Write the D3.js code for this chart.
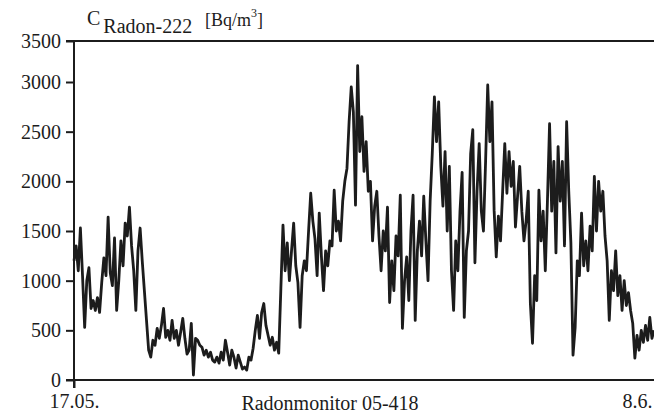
<!DOCTYPE html>
<html lang="de">
<head>
    <meta charset="UTF-8">
    <title>Radonmonitor 05-418</title>
    <style>
        body { margin: 0; background: #fff; }
        svg { display: block; font-family: "Liberation Serif", "Times New Roman", serif; }
        .axis path, .axis line { stroke: #1c1c1c; stroke-width: 2; }
        .axis text { fill: #1c1c1c; }
    </style>
</head>
<body>
    <div id="chart"></div>
    <script src="https://d3js.org/d3.v7.min.js"></script>
    <script>
        // Rn-222 Messwerte, alle 2 Stunden ab 17.05. 00:00 [Bq/m3]
        const startDate = new Date(2004, 4, 17);
        const endDate   = new Date(2004, 5, 8);
        const stepHours = 2;
        const radon = [
            1200, 1350, 1100, 1530, 1050,  530, 1000, 1130,  720,  800,
             700,  830,  680,  980, 1230, 1050, 1640, 1080,  950, 1430,
             700, 1000, 1400, 1150, 1580, 1450, 1740, 1350, 1100,  700,
            1300, 1530, 1200,  900,  600,  300,  230,  400,  350,  520,
             420,  550,  720,  430,  500,  400,  600,  420,  500,  350,
             480,  620,  420,  260,  300,  570,   50,  420,  400,  350,
             330,  250,  300,  230,  280,  200,  180,  230,  170,  280,
             200,  400,  280,  150,  300,  230,  120,  250,  180,  110,
             130,  100,  230,  200,  320,  500,  650,  420,  680,  770,
             550,  450,  350,  430,  300,  380,  270,  920, 1560, 1100,
            1380, 1000, 1300, 1580, 1150,  980,  530, 1050, 1200, 1100,
            1500, 1880, 1600, 1420, 1050, 1680, 1250,  900, 1300, 1150,
            1400, 1350, 1910, 1500, 1600, 1400, 1800, 2000, 2130, 2600,
            2950, 2700, 1760, 3200, 2300, 2650, 2100, 2400, 1900, 2000,
            1400, 1750, 1900, 1450, 1100, 1500, 1300, 1740,  780, 1200,
             900, 1450, 1250, 1860,  520, 1000, 1240,  800, 1500, 1860,
             600, 1300, 1600, 1250, 1850, 1400, 1000, 1800, 2280, 2850,
            2400, 2800, 2150, 1750, 2300, 1500, 2150, 1100,  700, 1400,
            1100, 1700, 2090,  630, 1300, 1500, 2280, 2520, 1180, 1900,
            2380, 1700, 1500, 2200, 2970, 2400, 2800, 1710, 1240, 1650,
            1400, 1900, 2380, 1880, 2300, 1950, 2200, 1540, 1850, 2150,
            1700, 1400, 1600, 1900,  770,  370, 1050,  800, 1910, 1400,
            1700, 1100, 1800, 2580, 1700, 2200, 1280, 2350, 1800, 2200,
            1350, 2600, 1900, 1380,  250,  530, 1200, 1050, 1680, 1150,
            1400, 1100, 1550, 1300, 2050, 1500, 2000, 1700, 1900, 1450,
            1200,  600, 1100,  900, 1300,  850, 1050,  700, 1000,  750,
             880,  700,  570,  220,  450,  300,  500,  380,  550,  400,
             630,  420,  500
        ];
        const yTicks  = [0, 500, 1000, 1500, 2000, 2500, 3000, 3500];
        const xTicks  = [startDate, endDate];
        const xLabels = ["17.05.", "8.6."];

        const width  = 654;
        const height = 417;
        const ink    = "#1c1c1c";
        const serif  = "'Liberation Serif', 'Times New Roman', serif";

        const data = radon.map((v, i) => ({
            t: d3.timeHour.offset(startDate, i * stepHours),
            v: v
        }));

        const x = d3.scaleTime().domain([startDate, endDate]).range([74, 637]);
        // gescanntes Original: oberstes Intervall etwas gestaucht
        const y = d3.scaleLinear().domain([0, 3000, 3500]).range([380, 82, 41]);

        const svg = d3.select("#chart").append("svg")
            .attr("width", width)
            .attr("height", height);

        // Achsen
        const yAxis = d3.axisLeft(y).tickValues(yTicks).tickFormat(d3.format("d"))
            .tickSize(8).tickSizeOuter(0).tickPadding(5);
        const gy = svg.append("g").attr("class", "axis").attr("transform", "translate(74,0)")
            .call(yAxis)
            .attr("font-family", serif).attr("font-size", 20);
        gy.select(".domain").remove();

        const xAxis = d3.axisBottom(x).tickValues(xTicks)
            .tickFormat((d, i) => xLabels[i])
            .tickSize(8).tickSizeOuter(0).tickPadding(6);
        const gx = svg.append("g").attr("class", "axis").attr("transform", "translate(0,380)")
            .call(xAxis)
            .attr("font-family", serif).attr("font-size", 20);
        gx.select(".domain").remove();
        gx.selectAll(".tick").filter((d, i) => i === 1).select("line").remove();

        // Rahmenlinien
        svg.append("line").attr("x1", 74).attr("x2", 74).attr("y1", y(3500)).attr("y2", 388)
            .attr("stroke", ink).attr("stroke-width", 2);
        svg.append("line").attr("x1", 66).attr("x2", width).attr("y1", y(0)).attr("y2", y(0))
            .attr("stroke", ink).attr("stroke-width", 2);
        svg.append("line").attr("x1", 66).attr("x2", width).attr("y1", y(3500)).attr("y2", y(3500))
            .attr("stroke", ink).attr("stroke-width", 2);

        // Messkurve
        const line = d3.line().x(d => x(d.t)).y(d => y(d.v));
        svg.append("path")
            .datum(data)
            .attr("d", line)
            .attr("fill", "none")
            .attr("stroke", ink)
            .attr("stroke-width", 2.8)
            .attr("stroke-linejoin", "round");

        // Titel
        const title = svg.append("text").attr("x", 87).attr("y", 25)
            .attr("font-family", serif).attr("font-size", 20).attr("fill", ink);
        title.append("tspan").text("C");
        title.append("tspan").attr("dx", 3).attr("dy", 8).text("Radon-222");
        title.append("tspan").attr("x", 205).attr("dy", -7).attr("font-size", 18).text("[Bq/m");
        title.append("tspan").attr("dy", -9).attr("font-size", 12).text("3");
        title.append("tspan").attr("dy", 9).attr("font-size", 18).text("]");

        svg.append("text")
            .attr("x", 330).attr("y", 410)
            .attr("text-anchor", "middle")
            .attr("font-family", serif).attr("font-size", 20).attr("fill", ink)
            .text("Radonmonitor 05-418");
    </script>
</body>
</html>
